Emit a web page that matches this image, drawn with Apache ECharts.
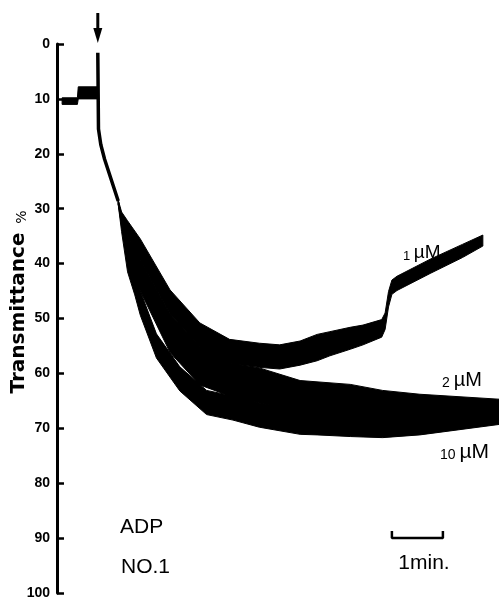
<!DOCTYPE html>
<html><head><meta charset="utf-8">
<script src="https://cdn.jsdelivr.net/npm/echarts@6/dist/echarts.min.js"></script>
<style>html,body{margin:0;padding:0;background:#fff}#c{width:499px;height:600px}</style>
</head><body><div id="c"></div>
<script>
// y axis ticks (Transmittance %)
const yTicks = [0, 10, 20, 30, 40, 50, 60, 70, 80, 90, 100];

// time in seconds relative to ADP addition (arrow)
// baseline before addition: centre and half-width of trace
const baseT  = [-42, -24, -23, -0.3];
const baseC  = [10.4, 10.4, 8.9, 8.9];
const baseH  = [0.6, 0.6, 1.1, 1.1];

// addition artefact and initial common decline
const leadT = [0, 0.8, 3.5, 8, 24];
const leadV = [1.6, 15.5, 18.3, 21, 28.6];

// ADP 1 µM
const t1 = [24, 28, 35, 50, 85, 120, 155, 190, 214, 238, 258, 273, 297, 312, 334, 338, 342, 346, 352, 391, 429, 453];
const c1 = [28.8, 31.2, 33.5, 37.5, 47, 53, 56, 56.7, 57, 56.3, 55.3, 54.6, 53.6, 53, 51.8, 50.5, 46.5, 44.3, 43.6, 40.5, 37.7, 35.8];
const h1 = [0.4, 0.6, 1.3, 2, 2.2, 2.2, 2.2, 2.2, 2.2, 2.2, 2.4, 2.2, 2, 1.8, 1.6, 1.5, 1.4, 1.3, 1.3, 1.3, 1.2, 1];

// ADP 2 µM
const t2 = [24, 28, 35, 50, 85, 120, 155, 190, 238, 297, 335, 379, 472];
const c2 = [28.8, 32.3, 36.2, 42.2, 52.7, 58.6, 61.1, 62.2, 64.1, 64.6, 65.6, 66.3, 66.9];
const h2 = [0.4, 0.8, 1.5, 2.8, 3.5, 3.5, 3, 3.2, 2.8, 2.6, 2.5, 2.5, 2.2];

// ADP 10 µM
const t3 = [24, 28, 35, 43.5, 50, 69, 96.5, 128, 159, 190, 238, 258, 297, 335, 379, 472];
const c3 = [28.8, 33, 39.5, 43.5, 47.2, 55, 61, 65.3, 66.3, 67.6, 68.9, 69, 69.1, 69.3, 68.8, 67.5];
const h3 = [0.4, 1.2, 2, 2.2, 2.2, 2.2, 2.2, 2.2, 2.2, 2.2, 2.2, 2.2, 2.4, 2.4, 2.4, 1.8];

// 1 min scale bar
const scaleT = [346, 406];
const scaleV = 90;
const scaleCap = 1.3;

const chart = echarts.init(document.getElementById('c'), null, {renderer: 'canvas'});

function bandSeries(name, t, c, h) {
  const rows = t.map((ti, i) => [ti, c[i] - h[i], c[i] + h[i]]);
  return {
    type: 'custom', name: name, data: rows, encode: {x: 0, y: [1, 2]},
    silent: true, animation: false,
    renderItem: function (params, api) {
      if (params.dataIndex !== 0) return null;
      const pts = [];
      for (let i = 0; i < rows.length; i++) pts.push(api.coord([rows[i][0], rows[i][1]]));
      for (let i = rows.length - 1; i >= 0; i--) pts.push(api.coord([rows[i][0], rows[i][2]]));
      return {type: 'polygon', shape: {points: pts}, style: {fill: '#000', stroke: '#000', lineWidth: 1}};
    }
  };
}

const lbl = 'Liberation Sans, Arial, sans-serif';

chart.setOption({
  animation: false,
  backgroundColor: '#fff',
  grid: {left: 57, right: 0, top: 44, bottom: 3, containLabel: false},
  xAxis: {type: 'value', min: -48, max: 472, show: false},
  yAxis: {
    type: 'value', inverse: true, min: 0, max: 100, interval: 10,
    axisLine: {show: true, onZero: false, lineStyle: {color: '#000', width: 3}},
    axisTick: {show: true, inside: true, length: 7, lineStyle: {color: '#000', width: 2.5}},
    splitLine: {show: false},
    axisLabel: {color: '#000', fontFamily: lbl, fontWeight: 'bold', fontSize: 14, margin: 7,
      formatter: v => yTicks.indexOf(v) >= 0 ? String(v) : ''}
  },
  series: [
    bandSeries('baseline', baseT, baseC, baseH),
    {type: 'line', name: 'lead', data: leadT.map((t, i) => [t, leadV[i]]), symbol: 'none',
     lineStyle: {color: '#000', width: 3.5}, silent: true},
    bandSeries('1 µM', t1, c1, h1),
    bandSeries('2 µM', t2, c2, h2),
    bandSeries('10 µM', t3, c3, h3),
    {type: 'line', name: 'scale', symbol: 'none', silent: true,
     data: [[scaleT[0], scaleV - scaleCap], [scaleT[0], scaleV], [scaleT[1], scaleV], [scaleT[1], scaleV - scaleCap]],
     lineStyle: {color: '#000', width: 2.5}}
  ]
});

const ax = chart.convertToPixel({gridIndex: 0}, [0, 0])[0];
chart.setOption({
  graphic: [
    {type: 'rect', shape: {x: ax - 1.5, y: 13, width: 3, height: 17}, style: {fill: '#000'}},
    {type: 'polygon', shape: {points: [[ax - 4.5, 28], [ax + 4.5, 28], [ax, 43]]}, style: {fill: '#000'}},
    {type: 'text', x: 19, y: 313, rotation: Math.PI / 2,
     style: {text: 'Transmittance', font: 'bold 20px DejaVu Sans', fill: '#000', align: 'center', verticalAlign: 'middle'}},
    {type: 'text', x: 22, y: 217, rotation: Math.PI / 2,
     style: {text: '%', font: '14px DejaVu Sans', fill: '#000', align: 'center', verticalAlign: 'middle'}},
    {type: 'text', x: 120, y: 527,
     style: {text: 'ADP', font: '21px ' + lbl, fill: '#000', align: 'left', verticalAlign: 'middle'}},
    {type: 'text', x: 121, y: 567,
     style: {text: 'NO.1', font: '21px ' + lbl, fill: '#000', align: 'left', verticalAlign: 'middle'}},
    {type: 'text', x: 424, y: 563,
     style: {text: '1min.', font: '21px ' + lbl, fill: '#000', align: 'center', verticalAlign: 'middle'}},
    {type: 'text', x: 403, y: 253,
     style: {text: '{n|1 }{u|µM}', fill: '#000', align: 'left', verticalAlign: 'middle',
       rich: {n: {fontSize: 13, fontFamily: lbl, verticalAlign: 'bottom'}, u: {fontSize: 19, fontFamily: lbl, verticalAlign: 'bottom'}}}},
    {type: 'text', x: 442, y: 380,
     style: {text: '{n|2 }{u|µM}', fill: '#000', align: 'left', verticalAlign: 'middle',
       rich: {n: {fontSize: 14, fontFamily: lbl, verticalAlign: 'bottom'}, u: {fontSize: 20, fontFamily: lbl, verticalAlign: 'bottom'}}}},
    {type: 'text', x: 440, y: 452,
     style: {text: '{n|10 }{u|µM}', fill: '#000', align: 'left', verticalAlign: 'middle',
       rich: {n: {fontSize: 14, fontFamily: lbl, verticalAlign: 'bottom'}, u: {fontSize: 21, fontFamily: lbl, verticalAlign: 'bottom'}}}}
  ]
});
</script>
</body></html>
